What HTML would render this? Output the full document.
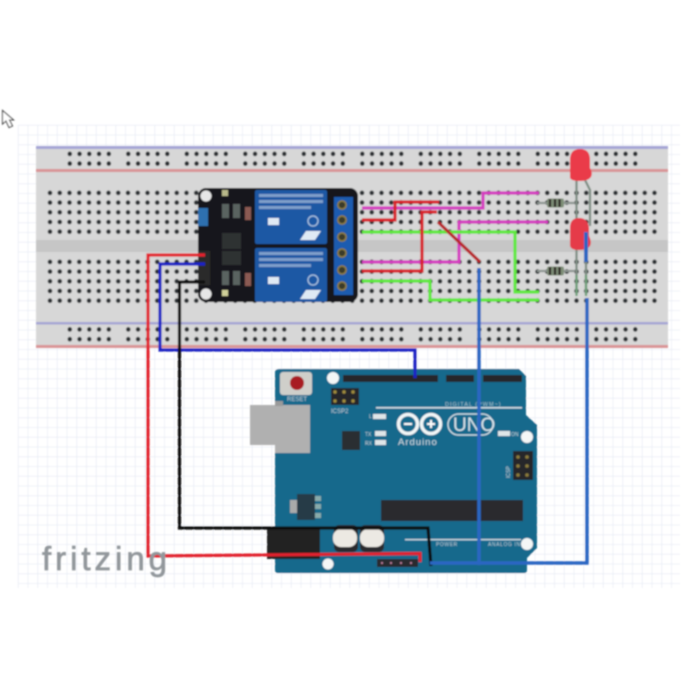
<!DOCTYPE html>
<html><head><meta charset="utf-8">
<style>html,body{margin:0;padding:0;background:#fff}svg{display:block}</style></head>
<body>
<svg xmlns="http://www.w3.org/2000/svg" width="700" height="700" viewBox="0 0 700 700" font-family="'Liberation Sans',sans-serif">
<defs>
<filter id="b" x="-5%" y="-5%" width="110%" height="110%"><feGaussianBlur stdDeviation="0.75"/></filter>
<pattern id="grid" x="18" y="125" width="9.75" height="9.75" patternUnits="userSpaceOnUse"><path d="M0 0H9.75M0 0V9.75" stroke="#dfe5f1" stroke-width="1" fill="none"/></pattern>
<pattern id="holes" x="45.1" y="188" width="9.75" height="9.7" patternUnits="userSpaceOnUse"><circle cx="4.9" cy="4.9" r="2.300" fill="#2a2e31"/></pattern>
<pattern id="rail" x="65" y="149" width="58.5" height="9.7" patternUnits="userSpaceOnUse"><g fill="#2a2e31"><circle cx="4.8" cy="4.9" r="2.300"/><circle cx="14.55" cy="4.9" r="2.300"/><circle cx="24.3" cy="4.9" r="2.300"/><circle cx="34.05" cy="4.9" r="2.300"/><circle cx="43.8" cy="4.9" r="2.300"/></g></pattern>
<pattern id="rail2" x="65" y="324.5" width="58.5" height="9.8" patternUnits="userSpaceOnUse"><g fill="#2a2e31"><circle cx="4.8" cy="4.9" r="2.300"/><circle cx="14.55" cy="4.9" r="2.300"/><circle cx="24.3" cy="4.9" r="2.300"/><circle cx="34.05" cy="4.9" r="2.300"/><circle cx="43.8" cy="4.9" r="2.300"/></g></pattern>
</defs>
<rect width="700" height="700" fill="#fff"/>
<g filter="url(#b)">
<rect x="18" y="125" width="662" height="463" fill="url(#grid)"/>
<!-- cursor -->
<path d="M2.5 110.5V124L6 121L9 127.5L12.5 126L9.5 120H13.5Z" fill="#fff" stroke="#444" stroke-width="1.100"/>
<!-- breadboard -->
<rect x="36" y="146" width="632" height="202" fill="#d7d7d7"/>
<rect x="36" y="240" width="632" height="12" fill="#c6c6c6"/>
<rect x="36" y="146" width="632" height="3" fill="#a6a6d6"/>
<rect x="36" y="169" width="632" height="3" fill="#d99496"/>
<rect x="36" y="322" width="632" height="2.500" fill="#a6a6d4"/>
<rect x="36" y="345" width="632" height="3" fill="#d99496"/>
<rect x="65" y="149" width="585" height="19.400" fill="url(#rail)"/>
<rect x="65" y="324.500" width="585" height="19.600" fill="url(#rail2)"/>
<rect x="45" y="188" width="615" height="48.500" fill="url(#holes)"/>
<g transform="translate(0,69)"><rect x="45" y="188" width="615" height="48.500" fill="url(#holes)"/></g>
<!-- arduino -->
<path d="M280 369H519L526 376V415L537 425V548L527 558V570Q527 573 524 573H278Q275 573 275 570V372Q275 369 280 369Z" fill="#17698c"/>
<rect x="343" y="375" width="95" height="7" fill="#25282a"/>
<rect x="446" y="375" width="28" height="7" fill="#25282a"/>
<rect x="483" y="375" width="39" height="7" fill="#25282a"/>
<rect x="280" y="372" width="32" height="23" rx="3" fill="#cfcfca"/>
<circle cx="297" cy="383" r="7" fill="#a81f24"/>
<text x="287" y="401" font-size="6" fill="#b8ccd6">RESET</text>
<rect x="331" y="388" width="28" height="17" fill="#25282a"/>
<g fill="#a08c3c"><circle cx="335" cy="392" r="1.700"/><circle cx="344" cy="392" r="1.700"/><circle cx="353" cy="392" r="1.700"/><circle cx="335" cy="401" r="1.700"/><circle cx="344" cy="401" r="1.700"/><circle cx="353" cy="401" r="1.700"/></g>
<text x="331" y="413" font-size="6" fill="#b8ccd6">ICSP2</text>
<path d="M250 405H310V453H275V445H250Z" fill="#b0b0b0"/>
<rect x="275" y="401" width="8" height="5" fill="#9a9a9a"/>
<rect x="342" y="431" width="18" height="19" fill="#2a2d30"/>
<g fill="#dfe6e8"><rect x="373" y="414" width="13" height="5"/><rect x="375" y="431" width="11" height="5"/><rect x="375" y="440" width="11" height="5"/><rect x="498" y="431" width="12" height="5"/></g>
<rect x="376" y="407" width="146" height="1.500" fill="#cfdde4"/>
<text x="445" y="406" font-size="5.500" fill="#a8c4d0" letter-spacing="1">DIGITAL (PWM~)</text>
<text x="369" y="418" font-size="5" fill="#c8d6dc">L</text>
<text x="365" y="436" font-size="5" fill="#c8d6dc">TX</text>
<text x="365" y="445" font-size="5" fill="#c8d6dc">RX</text>
<text x="511" y="436" font-size="5" fill="#c8d6dc">ON</text>
<g fill="none" stroke="#f2f6f7" stroke-width="3.500"><circle cx="408" cy="424" r="9.500"/><circle cx="431" cy="424" r="9.500"/></g>
<rect x="404" y="423" width="8" height="2" fill="#fff"/><path d="M427 424h8M431 420v8" stroke="#fff" stroke-width="2"/>
<rect x="448" y="414" width="45" height="21" rx="10.500" fill="none" stroke="#d8e4ea" stroke-width="1.300"/>
<text x="453" y="431" font-size="19" fill="#d8e4ea">UNO</text>
<text x="398" y="445" font-size="9.500" fill="#cfdee4" letter-spacing="1">Arduino</text>
<rect x="513" y="451" width="20" height="29" fill="#25282a"/>
<g fill="#8a7a3a"><circle cx="518" cy="457" r="1.800"/><circle cx="527" cy="457" r="1.800"/><circle cx="518" cy="466" r="1.800"/><circle cx="527" cy="466" r="1.800"/><circle cx="518" cy="475" r="1.800"/><circle cx="527" cy="475" r="1.800"/></g>
<text x="510" y="478" font-size="5" fill="#c8d6dc" transform="rotate(-90 510 478)">ICSP</text>
<g fill="#f4f6f6"><circle cx="333" cy="378" r="6"/><circle cx="527" cy="437" r="6"/><circle cx="328" cy="564" r="5.500"/><circle cx="527" cy="544" r="6"/></g>
<rect x="381" y="500" width="142" height="21" fill="#2a2b2d"/>
<rect x="290" y="500" width="7" height="13" fill="#aaa"/>
<rect x="297" y="494" width="18" height="26" fill="#263a46"/>
<rect x="315" y="496" width="6" height="5" fill="#8aa"/><rect x="315" y="504" width="6" height="5" fill="#8aa"/><rect x="315" y="513" width="6" height="5" fill="#8aa"/>
<rect x="267" y="527" width="53" height="32" fill="#232324"/>
<rect x="334" y="525" width="24" height="27" rx="5" fill="#2a2c2e"/><rect x="333" y="529" width="24" height="18" rx="8" fill="#ece9e3"/>
<rect x="360" y="525" width="24" height="27" rx="5" fill="#2a2c2e"/><rect x="360" y="529" width="24" height="18" rx="8" fill="#ece9e3"/>
<rect x="377" y="559" width="41" height="8" fill="#2a2b2d"/>
<g fill="#c8a"><circle cx="382" cy="563" r="1"/><circle cx="391" cy="563" r="1"/><circle cx="401" cy="563" r="1"/><circle cx="411" cy="563" r="1"/></g>
<rect x="405" y="539" width="62" height="1.300" fill="#cfdde4"/><rect x="467" y="539" width="54" height="1.300" fill="#cfdde4"/>
<text x="436" y="546" font-size="5" fill="#b8ccd6" letter-spacing=".6">POWER</text>
<text x="488" y="546" font-size="5" fill="#b8ccd6" letter-spacing=".6">ANALOG IN</text>
<!-- relay -->
<rect x="198" y="188" width="160" height="114" rx="8" fill="#16181a"/>
<circle cx="206" cy="196" r="5.500" fill="#e6e6e6"/><circle cx="206" cy="294" r="5.500" fill="#e6e6e6"/>
<rect x="198" y="208" width="10" height="18" fill="#2f6fb0"/>
<rect x="198" y="251" width="12" height="34" fill="#2c2c2c"/>
<rect x="222" y="233" width="19" height="16" fill="#2e3032"/><rect x="222" y="251" width="19" height="14" fill="#2e3032"/>
<g fill="#5a6460"><rect x="222" y="204" width="7" height="14"/><rect x="233" y="204" width="7" height="14"/><rect x="222" y="271" width="7" height="14"/><rect x="233" y="271" width="7" height="14"/></g>
<rect x="245" y="207" width="6" height="13" fill="#8a5a52"/><rect x="245" y="273" width="6" height="13" fill="#8a5a52"/>
<rect x="222" y="290" width="6" height="6" fill="#cfcf9a"/><rect x="222" y="190" width="6" height="6" fill="#b8b88a"/>
<rect x="255" y="190" width="72" height="54" rx="2" fill="#1c59a4"/>
<rect x="255" y="248" width="72" height="54" rx="2" fill="#1c59a4"/>
<g fill="#7f9fca"><rect x="259" y="194" width="64" height="3"/><rect x="259" y="200" width="64" height="3"/><rect x="259" y="206" width="52" height="3"/><rect x="259" y="252" width="64" height="3"/><rect x="259" y="258" width="64" height="3"/><rect x="259" y="264" width="52" height="3"/></g>
<g fill="#dfe9f4"><rect x="268" y="218" width="11" height="7"/><rect x="268" y="277" width="11" height="7"/><path d="M300 240l6-9h15l-6 9z"/><path d="M300 299l6-9h15l-6 9z"/></g>
<g fill="none" stroke="#a9c2e0" stroke-width="1.300"><circle cx="313" cy="221" r="5"/><circle cx="313" cy="280" r="5"/></g>
<rect x="334" y="197" width="19" height="98" fill="#1c5bb0"/>
<g fill="#3a3a2a" stroke="#8a7a44" stroke-width="1.800"><circle cx="342" cy="205" r="4"/><circle cx="342" cy="220" r="4"/><circle cx="342" cy="237" r="4"/><circle cx="342" cy="253" r="4"/><circle cx="342" cy="270" r="4"/><circle cx="342" cy="286" r="4"/></g>
<!-- LED legs -->
<g fill="none" stroke="#7f8e84" stroke-width="2.300"><path d="M576.500 178V292"/><path d="M585 180L590 190V226"/><path d="M586 245V292"/></g>
<g fill="none" stroke="#6fa07a" stroke-width="2.300"><path d="M576.500 275V296M586 275V296"/></g>
<!-- resistors -->
<path d="M537 203H575M537 271H575" stroke="#8c9490" stroke-width="2.300"/>
<rect x="547" y="198.500" width="17" height="9" rx="2" fill="#7f8f78"/><rect x="547" y="266.500" width="17" height="9" rx="2" fill="#7f8f78"/>
<path d="M550 199v8M555 199v8M559.500 199v8M550 267v8M555 267v8M559.500 267v8" stroke="#2b2222" stroke-width="2.300"/>
<!-- LEDs -->
<path d="M570 177V160Q570 149 580 149Q590 149 590 160V168Q593 173 591 177Q588 181 580 181Q570 181 570 177Z" fill="#ea3a48"/>
<path d="M570 245V228Q570 218 579 218Q588 218 589 228V236Q592 242 590 246Q587 250 579 250Q570 250 570 245Z" fill="#e53a48"/>
<!-- wires on board -->
<g fill="none" stroke-width="3.200" stroke-linejoin="miter">
<path d="M362 208H483V193H539" stroke="#d43dc0"/>
<path d="M362 262H459V222H548" stroke="#d43dc0"/>
<path d="M362 232H515V292H539" stroke="#5fe83c"/>
<path d="M362 281H430V300H539" stroke="#5fe83c"/>
<path d="M362 220H395V202H439" stroke="#d8202c"/>
<path d="M362 271H422V212H437" stroke="#d8202c"/>
<path d="M438 222L480 262" stroke="#b8262c"/>
<path d="M205 264H160V350H415V378" stroke="#1a22c4"/>
<path d="M205 255H148V556L420 553.500V562" stroke="#e2232f"/>
<path d="M205 282H179.500V528H428L431 566" stroke="#0c0c0e"/>
<path d="M430 563H587V298" stroke="#2a66c2" stroke-width="3.500"/>
<path d="M479 268V565" stroke="#2a66c2" stroke-width="3.500"/>
<path d="M586 232V262" stroke="#2a66c2" stroke-width="4"/>
</g>
<text x="42" y="570" font-size="33" fill="#92979b" stroke="#92979b" stroke-width="0.700" textLength="125" lengthAdjust="spacing">fritzing</text>
</g>
</svg>
</body></html>
